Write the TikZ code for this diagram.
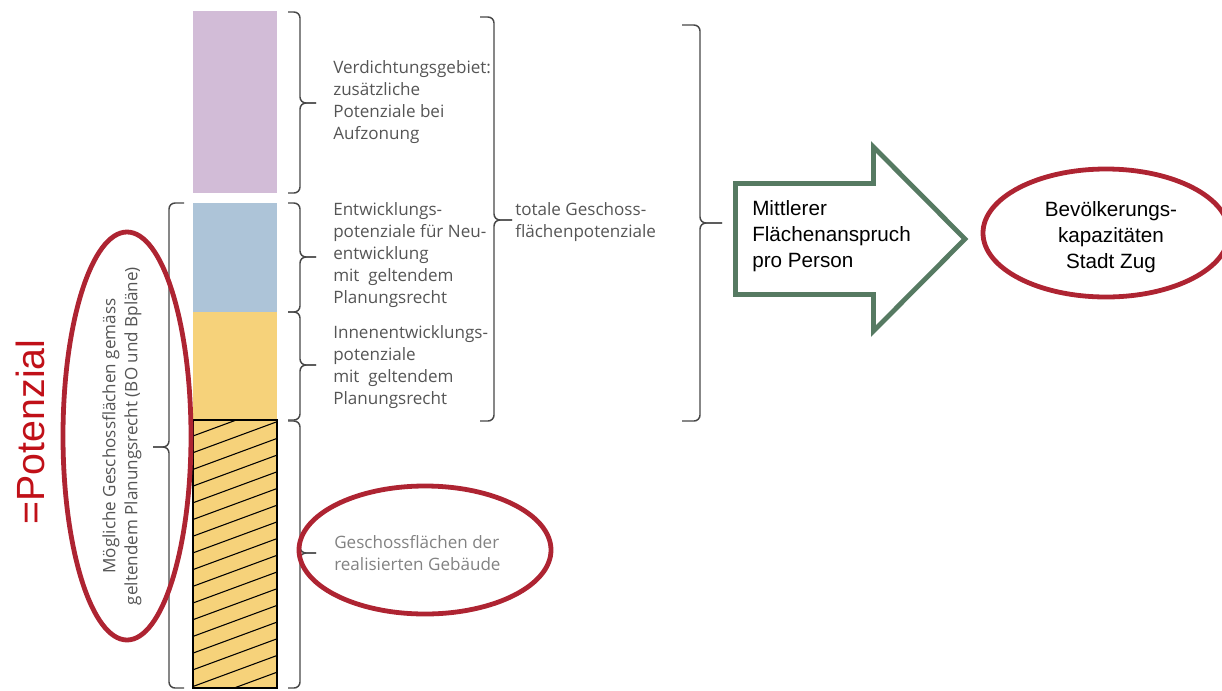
\documentclass[tikz,border=0pt]{standalone}
\usepackage{fontspec}
\setmainfont{Open Sans}
\newfontfamily\arialf{Liberation Sans}
\definecolor{zpurple}{RGB}{210,188,215}
\definecolor{zblue}{RGB}{173,196,216}
\definecolor{zyellow}{RGB}{246,210,122}
\definecolor{zred}{RGB}{174,36,50}
\definecolor{zbright}{RGB}{192,16,24}
\definecolor{zgreen}{RGB}{86,122,98}
\definecolor{zgrey}{RGB}{85,85,85}
\definecolor{zlight}{RGB}{130,130,130}
\newcommand{\zbrace}[6]{%
  \draw[brc] (#1,#4) -- (#2,#4) -- (#2,#5) -- (#3,#5);
  \draw[brc] (#1,#6) -- (#2,#6) -- (#2,#5) -- (#3,#5);}
\begin{document}
\begin{tikzpicture}[x=0.75pt,y=-0.75pt,
  brc/.style={draw=black!72, line width=1.1pt, rounded corners=4.5pt},
  lbl/.style={anchor=west, align=left, inner sep=0, text=zgrey,
    font=\fontsize{12.8}{16.5}\selectfont},
  arialtxt/.style={inner sep=0, text=black,
    font=\arialf\fontsize{15.5}{19.5}\selectfont},
  redring/.style={draw=zred, line width=3.6pt},
  bar/.style={draw=none}]
\useasboundingbox (0,0) rectangle (1222,690);
% bars
\fill[zpurple] (193,11) rectangle (277,193);
\fill[zblue] (193,203) rectangle (277,312);
\fill[zyellow] (193,312) rectangle (277,420);
\begin{scope}
  \clip (193,420) rectangle (277,688);
  \fill[zyellow] (193,420) rectangle (277,688);
  \foreach \k in {-1,...,17} \draw[line width=0.8pt] (193,{436+\k*16.7}) -- ++(84,-31);
\end{scope}
\draw[line width=1.1pt] (193,420) rectangle (277,688);
% braces
\zbrace{288}{300}{316}{12}{103}{193}
\zbrace{288}{300}{316}{203}{257}{312}
\zbrace{288}{300}{316}{312}{365}{420}
\zbrace{288}{300}{316}{421}{553}{688}
\zbrace{480}{494}{512}{17}{220}{421}
\zbrace{682}{700}{722}{25}{223}{421}
\zbrace{184}{169}{153}{203}{447}{688}
% labels
\node[lbl] (verd) at (333,102) {Verdichtungsgebiet:\\zusätzliche\\Potenziale bei\\Aufzonung};
\node[lbl] (entw) at (333,255) {Entwicklungs-\\potenziale für Neu-\\entwicklung\\mit\ \ geltendem\\Planungsrecht};
\node[lbl] (innen) at (333,367) {Innenentwicklungs-\\potenziale\\mit\ \ geltendem\\Planungsrecht};
\node[lbl] (total) at (515,222) {totale Geschoss-\\flächenpotenziale};
\node[lbl, text=zlight] (real) at (334,553) {Geschossflächen der\\realisierten Gebäude};
\node[lbl, anchor=center, align=center, rotate=90] (moegl) at (122,436)
  {Mögliche Geschossflächen gemäss\\geltendem Planungsrecht (BO und Bpläne)};
\node[inner sep=0, rotate=90, anchor=base, text=zbright,
  font=\arialf\fontsize{29.5}{30}\selectfont] (pot) at (45,432) {=Potenzial};
% red ellipses
\draw[redring] (127,436) ellipse [x radius=64, y radius=204];
\draw[redring] (425,550) ellipse [x radius=126, y radius=64];
\draw[redring] (1106,233) ellipse [x radius=123, y radius=64];
% green arrow
\draw[draw=zgreen, line width=3.6pt, line join=miter]
  (735.5,183.5) -- (873.5,183.5) -- (873.5,147) -- (965,239) -- (873.5,331)
  -- (873.5,294.5) -- (735.5,294.5) -- cycle;
\node[arialtxt, anchor=west, align=left] (flaeche) at (752,236)
  {Mittlerer\\Flächenanspruch\\pro Person};
\node[arialtxt, align=center] (bevoelk) at (1111,237)
  {Bevölkerungs-\\kapazitäten\\Stadt Zug};
\end{tikzpicture}
\end{document}
